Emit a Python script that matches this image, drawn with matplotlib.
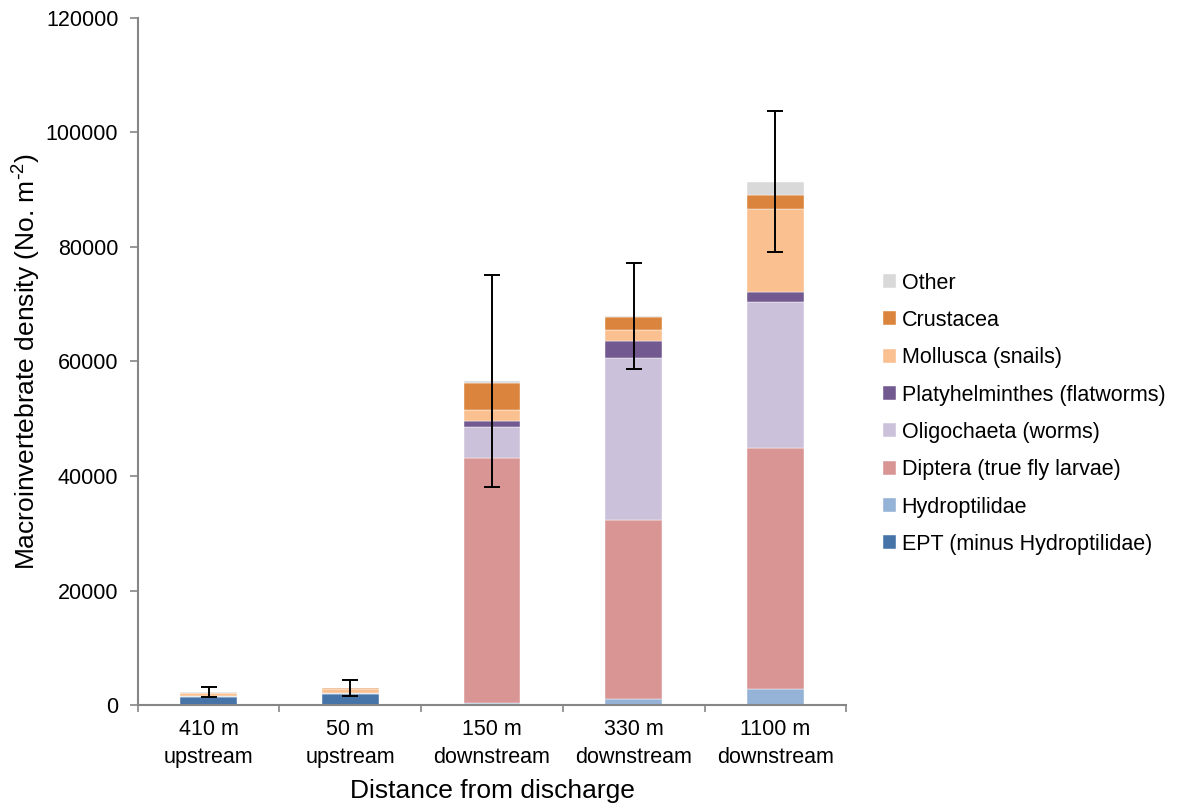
import matplotlib
matplotlib.use("Agg")
import matplotlib.pyplot as plt
import numpy as np

plt.rcParams['font.family'] = ['Liberation Sans', 'DejaVu Sans']
plt.rcParams['mathtext.default'] = 'regular'

# sites along the stream
sites = ['410 m\nupstream', '50 m\nupstream', '150 m\ndownstream',
         '330 m\ndownstream', '1100 m\ndownstream']

# taxon groups, bottom of the stack first
groups = ['EPT (minus Hydroptilidae)', 'Hydroptilidae', 'Diptera (true fly larvae)',
          'Oligochaeta (worms)', 'Platyhelminthes (flatworms)', 'Mollusca (snails)',
          'Crustacea', 'Other']
colors = ['#4673A8', '#95B3D7', '#D99594', '#CCC1DA', '#725A91', '#FAC090',
          '#DB843D', '#D9D9D9']

# densities (No. m-2)
ept = [1500, 2000, 200, 100, 100]
hydroptilidae = [50, 50, 100, 900, 2650]
diptera = [50, 50, 42800, 31400, 42150]
oligochaeta = [50, 50, 5500, 28200, 25500]
platyhelminthes = [0, 0, 1000, 3000, 1700]
mollusca = [550, 750, 1900, 1900, 14500]
crustacea = [0, 50, 4700, 2200, 2400]
other = [150, 100, 400, 200, 2400]

# error bar half-widths
errors = [900, 1400, 18500, 9300, 12300]

data = [ept, hydroptilidae, diptera, oligochaeta, platyhelminthes, mollusca, crustacea, other]

fig = plt.figure(figsize=(11.77, 8.05), dpi=100)
ax = fig.add_axes([0.117, 0.124, 0.602, 0.854])

x = np.arange(len(sites))
bottom = np.zeros(len(sites))
for vals, name, col in zip(data, groups, colors):
    ax.bar(x, vals, width=0.4, bottom=bottom, color=col, label=name,
           edgecolor='white', linewidth=0.3)
    bottom += np.array(vals)

ax.errorbar(x, bottom, yerr=errors, fmt='none', ecolor='black',
            elinewidth=1.4, capsize=6, capthick=1.4)

ax.set_xlim(-0.5, len(sites) - 0.5)
ax.set_ylim(0, 120000)
ax.set_yticks(np.arange(0, 120001, 20000))
ax.set_xticks(x)
ax.set_xticklabels(sites, fontsize=15.5, linespacing=1.45)
ax.set_xticks(np.arange(-0.5, len(sites), 1), minor=True)
ax.tick_params(axis='x', which='major', length=0, pad=10)
ax.tick_params(axis='x', which='minor', length=5, color='#868686', width=1.2)
ax.tick_params(axis='y', labelsize=15.5, length=6, color='#868686', width=1.2, pad=8)

for side in ['top', 'right']:
    ax.spines[side].set_visible(False)
for side in ['left', 'bottom']:
    ax.spines[side].set_color('#868686')
    ax.spines[side].set_linewidth(1.5)

ax.set_xlabel('Distance from discharge', fontsize=19, labelpad=8)
ax.set_ylabel('Macroinvertebrate density (No. m$^{\\text{-}2}$)', fontsize=19, labelpad=2)

handles, labels = ax.get_legend_handles_labels()
fig.legend(handles[::-1], labels[::-1], loc='center left',
           bbox_to_anchor=(0.741, 0.486), frameon=False, fontsize=15.5,
           handlelength=0.62, handleheight=0.62, handletextpad=0.25,
           labelspacing=0.76, borderpad=0)

fig.savefig('out.png', dpi=100)
